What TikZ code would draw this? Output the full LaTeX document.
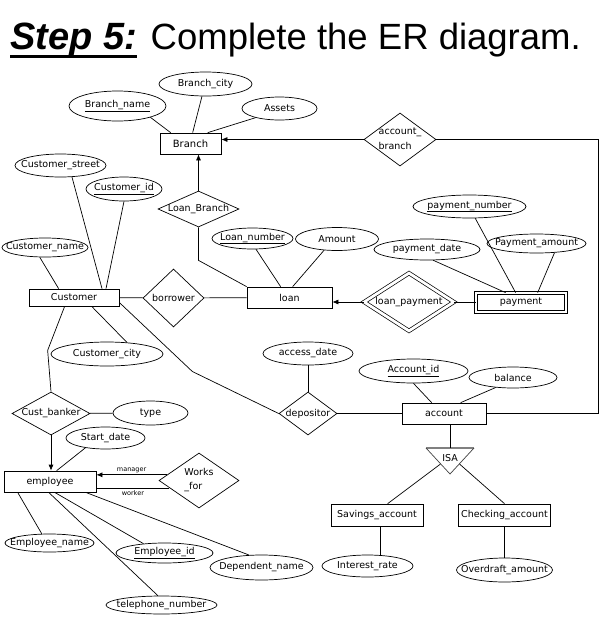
\documentclass[tikz,border=0pt]{standalone}
\usepackage{mathtools}
\usepackage{fontspec}
\setmainfont{DejaVu Sans}
\newfontfamily\titlefont{Liberation Sans}
\usetikzlibrary{shapes.geometric,arrows.meta}

\tikzset{
ent/.style 2 args={draw, rectangle, inner sep=0pt, minimum width=#1, minimum height=#2},
rel/.style 2 args={draw, diamond, inner sep=0pt, minimum width=#1, minimum height=#2},
att/.style 2 args={draw, ellipse, inner sep=0pt, minimum width=#1, minimum height=#2},
tip/.style={-{Latex[length=6pt,width=5pt]}},
}

\begin{document}
\begin{tikzpicture}
[x=1pt, y=-1pt, line width=.7pt, font=\fontsize{9.5}{11}\selectfont]
\useasboundingbox (0,0) rectangle (604,619);

% title
\node[anchor=base west, inner sep=0pt, font=\titlefont\fontsize{38}{40}\selectfont\bfseries\itshape] (step) at (10,49) {Step 5:};
\node[anchor=base west, inner sep=0pt, font=\titlefont\fontsize{36.5}{40}\selectfont] (title) at ([xshift=13]step.base east) {Complete the ER diagram.};
\draw[line width=3pt] ([yshift=-7pt]step.base west) -- ([yshift=-7pt]step.base east);

% entities
\node[ent={61}{21}, font=\fontsize{10}{12}\selectfont] (branch) at (190.5,143.5) {Branch};
\node[ent={90}{17}] (cust) at (74,297.5) {Customer};
\node[ent={85}{21}] (loan) at (289.5,297.5) {loan};
\node[ent={90}{19}, double, double distance=2.8pt] (payment) at (521,302.5) {payment};
\node[ent={84}{21}] (account) at (444,413.5) {account};
\node[ent={92}{21}] (employee) at (50,481.5) {employee};
\node[ent={92}{22}] (savings) at (377,515) {Savings\_account};
\node[ent={92}{22}] (checking) at (504.5,515) {\clap{Checking\_account}};

% relationships
\node[rel={72}{53}] (acctbr) at (400,139.5) {\clap{\begin{tabular}{@{}l@{}}account\_\\[4pt]branch\end{tabular}}};
\node[rel={81}{36}] (lb) at (198.5,209) {\clap{Loan\_Branch}};
\node[rel={61}{58}] (borrower) at (173.5,298) {\clap{borrower}};
\node[rel={90}{58}, double, double distance=2.8pt] (lpay) at (409,302) {\clap{loan\_payment}};
\node[rel={58}{43}] (dep) at (308,413.5) {\clap{depositor}};
\node[rel={78}{43}] (cbank) at (51,413.5) {\clap{Cust\_banker}};
\node[rel={80}{55}] (works) at (199,480.5) {\clap{\begin{tabular}{@{}l@{}}Works\\[3pt]\_for\end{tabular}}};

% attributes
\node[att={97}{30}] (bname) at (117.5,106) {\clap{\underline{Branch\_name}}};
\node[att={93}{24}] (bcity) at (205.5,84) {\clap{Branch\_city}};
\node[att={75}{23}] (assets) at (279.5,108.5) {\clap{Assets}};
\node[att={91}{23}] (cstreet) at (60.5,165.5) {\clap{Customer\_street}};
\node[att={76}{24}] (cid) at (124,189) {\clap{\underline{Customer\_id}}};
\node[att={86}{19}] (cname) at (45,247.5) {\clap{Customer\_name}};
\node[att={112}{24}] (ccity) at (107,354) {\clap{Customer\_city}};
\node[att={81}{21}] (lnum) at (252.5,238.5) {\clap{\underline{Loan\_number}}};
\node[att={83}{23}] (amount) at (337,239) {\clap{Amount}};
\node[att={106}{21}] (pdate) at (427,249.5) {\clap{payment\_date}};
\node[att={113}{23}] (pnum) at (469.5,206.5) {\clap{\underline{payment\_number}}};
\node[att={99}{19}] (pamt) at (536.5,243.5) {\clap{Payment\_amount}};
\node[att={90}{23}] (adate) at (308,353.5) {\clap{access\_date}};
\node[att={109}{24}] (accid) at (413.5,371) {\clap{\underline{Account\_id}}};
\node[att={88}{21}] (balance) at (513,377.5) {\clap{balance}};
\node[att={75}{24}] (type) at (150.5,413) {\clap{type}};
\node[att={79}{22}] (sdate) at (105.5,438) {\clap{Start\_date}};
\node[att={89}{18}] (ename) at (49.5,543) {\clap{Employee\_name}};
\node[att={97}{20}] (eid) at (164.5,553) {\clap{\underline{Employee\_id}}};
\node[att={103}{25}] (dname) at (261.5,567.5) {\clap{Dependent\_name}};
\node[att={111}{18}] (tel) at (161.5,605) {\clap{telephone\_number}};
\node[att={91}{22}] (irate) at (367.5,566) {\clap{Interest\_rate}};
\node[att={96}{24}] (odraft) at (504.5,570) {\clap{Overdraft\_amount}};

% ISA triangle
\coordinate (isatl) at (426,448);
\coordinate (isatr) at (474,448);
\coordinate (isab) at (450,474);
\coordinate (isal) at (440.5,464);
\coordinate (isar) at (459.5,464);
\node[inner sep=0pt] (isa) at (450,458) {ISA};
\draw[gray, line width=1.4pt] (isatl) -- (isatr);
\draw[black!75] (isatr) -- (isab) -- (isatl);

\foreach \from/\to in {cust/borrower,borrower/loan,cbank/type,dep/account,adate/dep,checking/odraft}
\draw (\from) -- (\to);

% arrows
\draw[tip] (lb.north) -- (lb.north |- branch.south);
\draw[tip] (acctbr.west) -- (acctbr.west -| branch.east);
\draw[tip] (lpay.west) -- (lpay.west -| loan.east);
\draw[tip] (cbank.south) -- (cbank.south |- employee.north);
\draw[tip] (works.170) -- (works.170 -| employee.east) node[midway, above, inner sep=2pt, font=\fontsize{6.5}{7}\selectfont] {manager};
\draw (works.194) -- (works.194 -| employee.east) node[midway, below, inner sep=2pt, font=\fontsize{6.5}{7}\selectfont] {worker};

% other links
\draw (bname.-19) -- ([xshift=11]branch.north west);
\draw (bcity.-106) -- ([xshift=33]branch.north west);
\draw (assets.-159) -- ([xshift=48]branch.north west);
\draw (cstreet.-45) -- ([xshift=28]cust.north);
\draw (cid.south) -- ([xshift=32]cust.north);
\draw (cname.-118) -- ([xshift=30]cust.north west);
\draw ([xshift=63]cust.south west) -- (ccity.30);
\draw ([xshift=36]cust.south west) -- +(-17,44) -- (cbank.north);
\draw ([yshift=-5]cust.east) -- +(73,69) -- (dep.west);
\draw (lb.south) -- +(0,33) -- (loan.north west);
\draw (lnum.-72) -- ([xshift=34]loan.north west);
\draw (amount.-139) -- ([xshift=46]loan.north west);
\draw (lpay.east) -- (lpay.east -| payment.west);
\draw (pnum.-64) -- ([xshift=40]payment.north west);
\draw (pdate.-60) -- ([xshift=30]payment.north west);
\draw (pamt.-27) -- ([xshift=62]payment.north west);
\coordinate (rc) at (598,139.5);
\draw (acctbr.east) -- (rc) |- (account.east);
\draw (accid.south) -- ([xshift=30]account.north west);
\draw (balance.-150) -- ([xshift=59]account.north west);
\draw (isa |- account.south) -- (isa |- isatl);
\draw (isal) -- ([xshift=57]savings.north west);
\draw (isar) -- (checking.north);
\draw ([xshift=3]savings.south) -- ([xshift=3]savings.south |- irate.north);
\draw (sdate.-154) -- ([xshift=53]employee.north west);
\draw ([xshift=14]employee.south west) -- (ename.130);
\draw ([xshift=45]employee.south west) -- (tel.111);
\draw ([xshift=51]employee.south west) -- (eid.156);
\draw ([xshift=82]employee.south west) -- (dname.135);
\end{tikzpicture}
\end{document}
